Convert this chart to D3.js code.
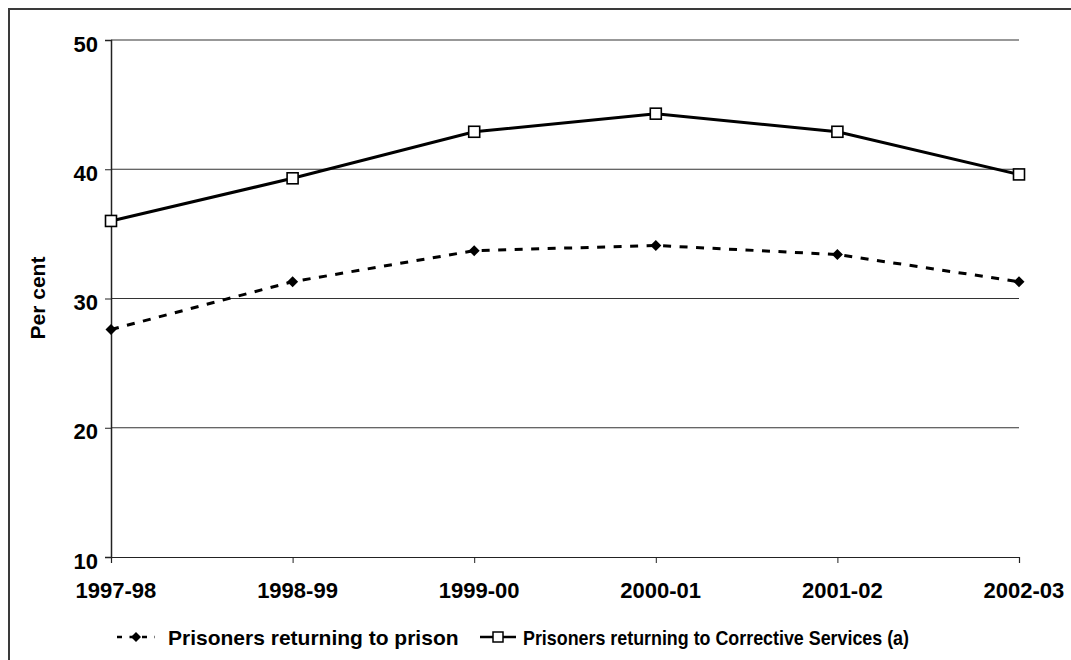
<!DOCTYPE html>
<html><head><meta charset="utf-8">
<script src="https://cdn.jsdelivr.net/npm/d3@7"></script>
<style>body{margin:0;background:#fff}svg{display:block}text{font-family:"Liberation Sans",Arial,sans-serif;font-weight:bold;fill:#000}</style>
</head><body>
<script>
const categories = ["1997-98","1998-99","1999-00","2000-01","2001-02","2002-03"];
const prisonValues = [27.6, 31.3, 33.7, 34.1, 33.4, 31.3];
const correctiveValues = [36.0, 39.3, 42.9, 44.3, 42.9, 39.6];
const yTicks = [10, 20, 30, 40, 50];
const seriesNames = ["Prisoners returning to prison", "Prisoners returning to Corrective Services (a)"];
const yTitle = "Per cent";

const W = 1071, H = 660;
const svg = d3.select("body").append("svg").attr("width", W).attr("height", H);
svg.append("rect").attr("x", 9).attr("y", 9).attr("width", 1100).attr("height", 700)
  .attr("fill", "none").attr("stroke", "#3a3a3a").attr("stroke-width", 2);

const m = {l: 111, r: 1019, t: 40, b: 557};
const x = d3.scalePoint().domain(categories).range([m.l, m.r]).padding(0);
const y = d3.scaleLinear().domain([10, 50]).range([m.b, m.t]);

// gridlines
svg.append("g").selectAll("line").data(yTicks.filter(d => d > 10)).join("line")
  .attr("x1", m.l).attr("x2", m.r).attr("y1", d => y(d)).attr("y2", d => y(d))
  .attr("stroke", "#333").attr("stroke-width", 1.2);

// y axis
const yAx = svg.append("g").attr("transform", `translate(${m.l},0)`)
  .call(d3.axisLeft(y).tickValues(yTicks).tickSize(6).tickPadding(7).tickFormat(d3.format("d")));
yAx.select(".domain").attr("stroke", "#222").attr("stroke-width", 1.5);
yAx.selectAll(".tick line").attr("stroke", "#222");
yAx.selectAll("text").style("font-size", "22px").attr("dy", "0.5em");

// x axis
const xAx = svg.append("g").attr("transform", `translate(0,${m.b})`)
  .call(d3.axisBottom(x).tickSize(6).tickPadding(19));
xAx.select(".domain").attr("stroke", "#222").attr("stroke-width", 1.2);
xAx.selectAll(".tick line").attr("stroke", "#222");
xAx.selectAll("text").style("font-size", "22px").attr("dx", "0.2em");

// y title
svg.append("text").attr("transform", "translate(45,298) rotate(-90)")
  .attr("text-anchor", "middle").style("font-size", "21px").text(yTitle);

const line = d3.line().x((d, i) => x(categories[i])).y(d => y(d));

svg.append("path").datum(prisonValues).attr("d", line).attr("fill", "none")
  .attr("stroke", "#000").attr("stroke-width", 3).attr("stroke-dasharray", "8,8.5");
svg.append("path").datum(correctiveValues).attr("d", line).attr("fill", "none")
  .attr("stroke", "#000").attr("stroke-width", 3);

const diamond = s => `M0,${-s}L${s},0L0,${s}L${-s},0Z`;
svg.append("g").selectAll("path").data(prisonValues).join("path")
  .attr("transform", (d, i) => `translate(${x(categories[i])},${y(d)})`)
  .attr("d", diamond(5.5)).attr("fill", "#000");
svg.append("g").selectAll("rect").data(correctiveValues).join("rect")
  .attr("x", (d, i) => x(categories[i]) - 5.5).attr("y", d => y(d) - 5.5)
  .attr("width", 11).attr("height", 11).attr("fill", "#fff").attr("stroke", "#000").attr("stroke-width", 1.6);

// legend
const lg = svg.append("g");
const ly = 637;
lg.append("line").attr("x1", 117).attr("x2", 155).attr("y1", ly).attr("y2", ly)
  .attr("stroke", "#000").attr("stroke-width", 2.5).attr("stroke-dasharray", "5,7.5");
lg.append("path").attr("transform", `translate(136,${ly})`).attr("d", diamond(5)).attr("fill", "#000");
lg.append("text").attr("x", 168).attr("y", ly + 8).style("font-size", "21px").text(seriesNames[0]);

lg.append("line").attr("x1", 480).attr("x2", 516).attr("y1", ly).attr("y2", ly)
  .attr("stroke", "#000").attr("stroke-width", 2.5);
lg.append("rect").attr("x", 493).attr("y", ly - 5).attr("width", 10).attr("height", 10)
  .attr("fill", "#fff").attr("stroke", "#000").attr("stroke-width", 1.5);
lg.append("text").attr("x", 523).attr("y", ly + 8).style("font-size", "21px")
  .attr("textLength", 386).attr("lengthAdjust", "spacingAndGlyphs").text(seriesNames[1]);
</script>
</body></html>
